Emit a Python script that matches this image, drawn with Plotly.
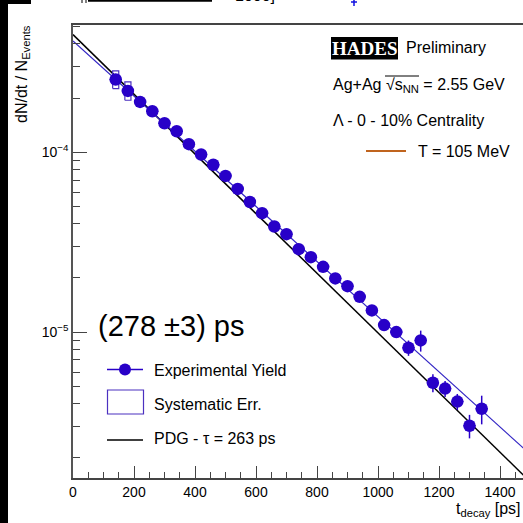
import plotly.graph_objects as go

# ---------------- data ----------------
t_decay = [140, 180, 220, 260, 300, 340, 380, 420, 460, 500, 540, 580, 620, 660, 700,
           740, 780, 820, 860, 900, 940, 980, 1020, 1060, 1100, 1140, 1180, 1220, 1260,
           1300, 1340]
yield_vals = [2.535e-4, 2.191e-4, 1.903e-4, 1.689e-4, 1.449e-4, 1.308e-4, 1.108e-4,
              9.71e-5, 8.52e-5, 7.385e-5, 6.253e-5, 5.288e-5, 4.583e-5, 3.866e-5,
              3.503e-5, 2.891e-5, 2.61e-5, 2.306e-5, 1.988e-5, 1.801e-5, 1.571e-5,
              1.32e-5, 1.094e-5, 1.0e-5, 8.18e-6, 8.99e-6, 5.23e-6, 4.855e-6, 4.11e-6,
              3.016e-6, 3.75e-6]
yield_err = [7e-6, 6e-6, 5e-6, 4.5e-6, 4e-6, 3.6e-6, 3.1e-6, 2.8e-6, 2.5e-6, 2.2e-6,
             1.9e-6, 1.7e-6, 1.6e-6, 1.4e-6, 1.3e-6, 1.1e-6, 1.05e-6, 1.0e-6, 0.9e-6,
             0.85e-6, 0.8e-6, 0.72e-6, 0.7e-6, 0.7e-6, 0.8e-6, 1.2e-6, 0.6e-6, 0.5e-6,
             0.42e-6, 0.45e-6, 0.68e-6]
bin_halfwidth = 20

sys_t = [140, 180]
sys_lo = [2.259e-4, 1.945e-4]
sys_hi = [2.83e-4, 2.458e-4]
sys_halfwidth = 10

fit_t = [0, 1480]
fit_278 = [4.153e-4, 2.239e-6]   # tau = 278 ps fit
pdg_263 = [4.507e-4, 1.583e-6]   # PDG tau = 263 ps

x_ticks = [0, 200, 400, 600, 800, 1000, 1200, 1400]
x_minor = list(range(0, 1500, 50))
y_ticks = [1e-5, 1e-4]
y_ticktext = ["10<sup>\u22125</sup>", "10<sup>\u22124</sup>"]
y_minor = [2e-6, 3e-6, 4e-6, 5e-6, 6e-6, 7e-6, 8e-6, 9e-6,
           2e-5, 3e-5, 4e-5, 5e-5, 6e-5, 7e-5, 8e-5, 9e-5,
           2e-4, 3e-4, 4e-4, 5e-4]

# ---------------- styling ----------------
W = H = 523
L, T, R, B = 73, 25, 0, 45
PW, PH = W - L - R, H - T - B
FONT = "Liberation Sans, Arial, sans-serif"
MARK = "#2800c8"
SYS = "#4b30c0"
FITC = "#3326c4"


def px(x):
    return (x - L) / PW


def py(y):
    return (H - B - y) / PH


fig = go.Figure()

# fit lines
fig.add_trace(go.Scatter(x=fit_t, y=pdg_263, mode="lines",
                         line=dict(color="black", width=1.5), hoverinfo="skip"))
fig.add_trace(go.Scatter(x=fit_t, y=fit_278, mode="lines",
                         line=dict(color=FITC, width=1.2), hoverinfo="skip"))

# systematic boxes
for t, lo, hi in zip(sys_t, sys_lo, sys_hi):
    fig.add_trace(go.Scatter(
        x=[t - sys_halfwidth, t + sys_halfwidth, t + sys_halfwidth, t - sys_halfwidth, t - sys_halfwidth],
        y=[lo, lo, hi, hi, lo], mode="lines",
        line=dict(color=SYS, width=1.2), hoverinfo="skip"))

# data points
fig.add_trace(go.Scatter(
    x=t_decay, y=yield_vals, mode="markers",
    marker=dict(color=MARK, size=12.5, symbol="circle", line=dict(width=0)),
    error_y=dict(type="data", array=yield_err, color=MARK, thickness=1.5, width=0),
    error_x=dict(type="data", array=[bin_halfwidth] * len(t_decay), color=MARK, thickness=1.5, width=0),
))

shapes = []
ann = []


def text(x, y, s, size=16, xanchor="left", yanchor="middle", color="black", family=FONT, angle=0):
    ann.append(dict(x=px(x), y=py(y), xref="paper", yref="paper", text=s, showarrow=False,
                    xanchor=xanchor, yanchor=yanchor, textangle=angle,
                    font=dict(size=size, color=color, family=family)))


def line(x0, y0, x1, y1, color="black", width=1.5):
    shapes.append(dict(type="line", xref="paper", yref="paper", x0=px(x0), y0=py(y0),
                       x1=px(x1), y1=py(y1), line=dict(color=color, width=width)))


def rect(x0, y0, x1, y1, fill=None, color="black", width=1.0):
    d = dict(type="rect", xref="paper", yref="paper", x0=px(x0), y0=py(y0),
             x1=px(x1), y1=py(y1), line=dict(color=color, width=width))
    if fill:
        d["fillcolor"] = fill
    shapes.append(d)


# left black bar + top-left strip (cropped screenshot edges)
rect(0, 4, 8, 523, fill="black", color="black", width=0)
rect(0, 0, 31, 4, fill="black", color="black", width=0)
# remnants of content cut at the top
line(88, 0.8, 212, 0.8, color="black", width=2)
line(82, 0, 82, 3, color="black", width=1)
line(86, 0, 86, 3, color="black", width=1)
text(255, 6, "1000]", size=16, xanchor="center", yanchor="bottom")
line(354, 0, 354, 6, color="#1010e0", width=1.5)
line(351, 2, 357, 2, color="#1010e0", width=1.5)

# HADES labels
rect(331, 37, 398, 59.5, fill="black", color="black", width=0)
text(364.5, 48.5, "<b>HADES</b>", size=19, xanchor="center", color="white",
     family="Liberation Serif, serif")
text(404, 47.5, "Preliminary", size=16)
text(331, 85, "Ag+Ag \u221As<sub>NN</sub> = 2.55 GeV", size=16)
line(385, 76, 419, 76, color="black", width=1)
text(331, 121, "\u039B - 0 - 10% Centrality", size=16)
line(366, 151, 406, 151, color="#c0641e", width=2)
text(416, 151, "T = 105 MeV", size=16)

# lifetime
text(96, 326, "(278 \u00B13) ps", size=29)

# legend
line(107, 369.5, 143, 369.5, color=MARK, width=1.5)
shapes.append(dict(type="circle", xref="paper", yref="paper",
                   x0=px(119), x1=px(131), y0=py(363.5), y1=py(375.5),
                   fillcolor=MARK, line=dict(width=0)))
text(152, 370, "Experimental Yield", size=16)
rect(107.5, 390, 143.5, 414, color=SYS, width=1.2)
text(152, 404, "Systematic Err.", size=16)
line(107, 440, 143, 440, color="black", width=1.5)
text(152, 438, "PDG - \u03C4 = 263 ps", size=16)

# axis titles
text(22, 74, "dN/dt / N<sub>Events</sub>", size=16, xanchor="center", angle=-90)
text(523, 510, "t<sub>decay</sub> [ps]", size=16, xanchor="right")

fig.update_layout(
    width=W, height=H,
    margin=dict(l=L, r=R, t=T, b=B, pad=0),
    paper_bgcolor="white", plot_bgcolor="white",
    showlegend=False,
    shapes=shapes, annotations=ann,
    font=dict(family=FONT, color="black"),
    xaxis=dict(range=[0, PW / 0.305], tickmode="array", tickvals=x_ticks,
               ticks="inside", ticklen=12, tickwidth=1, tickcolor="#444",
               showline=True, linecolor="#444", linewidth=1.5, mirror=True,
               showgrid=False, zeroline=False,
               tickfont=dict(size=14, color="black", family=FONT),
               minor=dict(tickmode="array", tickvals=x_minor, ticks="inside",
                          ticklen=6, tickwidth=1, tickcolor="#444", showgrid=False)),
    yaxis=dict(type="log", range=[-5.8111, -3.2928], tickmode="array",
               tickvals=y_ticks, ticktext=y_ticktext,
               ticks="inside", ticklen=14, tickwidth=1, tickcolor="#444",
               showline=True, linecolor="#555", linewidth=1.5, mirror=False,
               showgrid=False, zeroline=False,
               tickfont=dict(size=14, color="black", family=FONT),
               minor=dict(tickmode="array", tickvals=y_minor, ticks="inside",
                          ticklen=7, tickwidth=1, tickcolor="#444", showgrid=False)),
)

fig.write_html("out.html")
